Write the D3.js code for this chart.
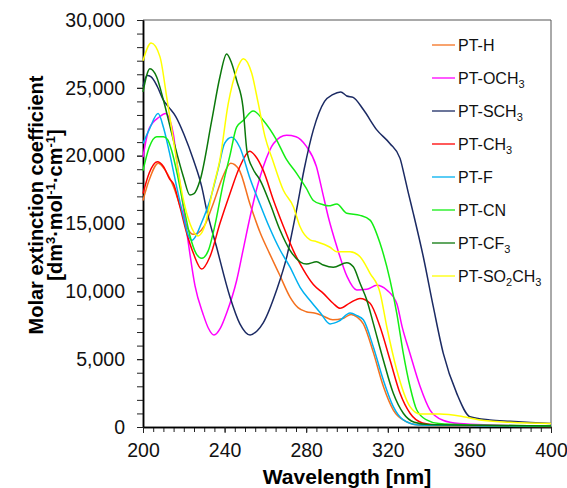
<!DOCTYPE html>
<html>
<head>
<meta charset="utf-8">
<script src="https://cdn.jsdelivr.net/npm/d3@7"></script>
<style>
  body { margin: 0; background: #fff; }
  svg { display: block; font-family: Arial, 'Liberation Sans', sans-serif; }
</style>
</head>
<body>
<div id="chart"></div>
<script>
// Absorption spectra, [wavelength nm, molar extinction coefficient]
const ptH = [[200,16700],[203,18200],[207.5,19450],[211,18900],[215,17700],[219,15900],[222,14600],[224.5,14200],[227,14300],[230,14800],[234.5,16500],[239,18400],[243,19450],[247,19000],[252.5,16400],[257.5,14300],[262,12800],[267,11200],[272,9600],[276,8800],[280,8500],[284,8400],[288,8200],[293,7900],[298,8000],[302,8300],[305,8100],[308,7600],[312.9,5500],[317.8,3000],[322.7,1250],[329,400],[335,150],[350,80],[400,40]];
const ptOCH3 = [[200,19900],[203,22000],[208,22850],[211,23100],[213,22700],[215,21500],[216.5,19700],[219,17000],[222,13800],[225.5,10400],[229.5,8300],[232,7300],[234.8,6780],[238,7300],[241,8400],[245.9,10800],[249,13000],[252.5,15500],[256,17700],[259,19200],[264,20900],[270.4,21500],[275,21400],[280,20700],[285,19200],[288,17300],[290.8,15500],[295,13300],[300,11100],[304.8,10100],[309.7,10150],[314.6,10450],[319.5,10100],[324.4,9100],[327,7400],[330.9,5400],[335.8,3000],[340.7,1250],[347,500],[355,250],[370,150],[400,80]];
const ptSCH3 = [[200,25100],[202,25900],[204,25800],[207,25100],[210,24100],[212.5,23600],[216,22900],[220,21600],[224.7,19700],[228.8,17700],[231.2,16000],[236,13300],[242.6,9600],[247.5,7600],[252.5,6780],[256,7100],[259,7700],[265.5,10100],[270.4,12500],[275,15800],[279,19000],[283.5,21900],[289,24000],[293,24500],[296.9,24700],[299.9,24400],[303,24300],[308,23400],[314.6,21900],[321,20900],[326,19800],[328,18600],[330,17300],[332.5,15750],[337.4,12550],[342.3,8870],[347.2,5430],[353.8,2480],[360.3,760],[370,520],[380,420],[390,330],[400,250]];
const ptCH3 = [[200,17200],[203,18700],[207,19550],[210,19200],[213,18300],[215,17900],[218,16300],[221.4,14300],[224.7,12800],[228.8,11640],[232.8,12550],[237.7,15000],[242.6,17200],[247.5,19200],[252.3,20330],[255,20000],[259,18900],[264,16700],[268.8,14800],[273.7,13000],[278.6,11600],[283.5,10500],[288.4,9850],[293.3,9100],[296.6,8750],[301.5,9150],[306.4,9480],[311.3,9120],[316.2,7390],[321.1,4940],[326,2480],[330.9,1010],[337,300],[345,150],[400,60]];
const ptF = [[200,20900],[203,21900],[207.4,23100],[210,22100],[213,20200],[216.5,17700],[219.8,15500],[222,14200],[224,13750],[226,14100],[228,14800],[232.8,16700],[237,19100],[240,20900],[243.5,21350],[247.5,20600],[252.5,18300],[257.4,16400],[262,14700],[267,13100],[272,11800],[277,10300],[282,9300],[287,8400],[291.7,7600],[296,7800],[301.5,8400],[305,8200],[308,7900],[312.9,5900],[317.8,3460],[322.7,1500],[327.6,520],[335,150],[400,50]];
const ptCN = [[200,18900],[203,20600],[206.7,21400],[210,21400],[212,21200],[214,20400],[217,18500],[220,16200],[223,14100],[226,12800],[228.8,12430],[232,13000],[235,14700],[239.4,18000],[242.6,20000],[245.9,22100],[249.2,22600],[254,23300],[259,22600],[265.5,21150],[270.4,19700],[275.3,18700],[280,17600],[283.5,16700],[288,16400],[291,16300],[295,16430],[299.9,15750],[306.4,15600],[311.3,15250],[316.2,13540],[321.1,10830],[324.4,8380],[327.6,5430],[330.9,2970],[334.2,1250],[339,520],[345,250],[360,150],[400,80]];
const ptCF3 = [[200,24700],[203.4,26400],[206.7,25800],[210,24100],[214.9,21150],[219.8,18450],[223,17100],[225,17200],[228,18200],[233.7,22600],[237.7,25800],[241,27500],[243.5,26800],[246,25500],[249,23600],[251,20300],[254,19000],[257.4,18200],[262.3,16450],[267.2,14500],[272,13040],[277,12180],[280.2,12010],[285.1,12180],[288.4,11940],[293.3,11770],[299.9,12110],[303.1,11810],[306.4,10590],[309.7,9360],[312.9,7640],[317.8,4940],[322.7,2480],[327.6,1010],[333,350],[340,180],[400,80]];
const ptSO2CH3 = [[200,27000],[204,28300],[208.3,27300],[211.6,24340],[214.9,21150],[219.8,16750],[223,15000],[227,14080],[230,14700],[234.5,17700],[237.7,19700],[241.8,23850],[245.9,26300],[249.2,27150],[253.3,26070],[256.5,23850],[259.8,21400],[263.5,19700],[268.8,17450],[273.7,16240],[277,14760],[281.9,13800],[285.1,13660],[291.7,13250],[295,12920],[301.5,12920],[306.4,12550],[311.3,11330],[316.2,9900],[319.5,7390],[324.4,4200],[330.9,1500],[335.8,960],[345.6,960],[357,760],[365,520],[380,350],[400,250]];

const seriesLabels = ['PT-H', 'PT-OCH_3', 'PT-SCH_3', 'PT-CH_3', 'PT-F', 'PT-CN', 'PT-CF_3', 'PT-SO_2CH_3'];
const seriesValues = [ptH, ptOCH3, ptSCH3, ptCH3, ptF, ptCN, ptCF3, ptSO2CH3];

const wavelengthTicks = [200, 240, 280, 320, 360, 400];
const coefficientTicks = [0, 5000, 10000, 15000, 20000, 25000, 30000];

class SpectraChart {
  constructor(_config, _data) {
    this.config = {
      parentElement: _config.parentElement,
      containerWidth: 567,
      containerHeight: 488,
      margin: { top: 20, right: 16, bottom: 61, left: 143 },
      colors: ['#f4711f', '#ff00ff', '#1b2a63', '#ff0000', '#00b0f0', '#14ee14', '#0b780b', '#ffff00'],
    };
    this.data = _data;
    this.initVis();
  }

  initVis() {
    let vis = this;

    vis.config.width = vis.config.containerWidth - vis.config.margin.left - vis.config.margin.right;
    vis.config.height = vis.config.containerHeight - vis.config.margin.top - vis.config.margin.bottom;

    vis.xScale = d3.scaleLinear().domain([200, 400]).range([0, vis.config.width]);
    vis.yScale = d3.scaleLinear().domain([0, 30000]).range([vis.config.height, 0]);

    vis.svg = d3.select(vis.config.parentElement)
      .append('svg')
      .attr('width', vis.config.containerWidth)
      .attr('height', vis.config.containerHeight);

    vis.chart = vis.svg.append('g')
      .attr('transform', `translate(${vis.config.margin.left},${vis.config.margin.top})`);

    // top and right border of the plot box
    vis.chart.append('path')
      .attr('d', `M0,0H${vis.config.width}V${vis.config.height}`)
      .attr('fill', 'none')
      .attr('stroke', '#555')
      .attr('stroke-width', 1);

    vis.renderVis();
  }

  renderVis() {
    let vis = this;
    const w = vis.config.width, h = vis.config.height;

    // minor ticks first, then the labelled axes
    vis.chart.append('g')
      .attr('class', 'minor')
      .call(d3.axisLeft(vis.yScale).tickValues(d3.range(0, 30001, 1000)).tickFormat('').tickSize(6).tickSizeOuter(0));
    vis.chart.append('g')
      .attr('class', 'minor')
      .attr('transform', `translate(0,${h})`)
      .call(d3.axisBottom(vis.xScale).tickValues(d3.range(200, 401, 5)).tickFormat('').tickSize(5).tickSizeOuter(0));
    // drop the empty label nodes of the minor axes
    vis.chart.selectAll('.minor text').remove();

    const yAxis = vis.chart.append('g')
      .call(d3.axisLeft(vis.yScale).tickValues(coefficientTicks).tickFormat(d3.format(',')).tickSize(6).tickPadding(12).tickSizeOuter(0));
    const xAxis = vis.chart.append('g')
      .attr('transform', `translate(0,${h})`)
      .call(d3.axisBottom(vis.xScale).tickValues(wavelengthTicks).tickSize(6).tickPadding(10).tickSizeOuter(0));

    vis.chart.selectAll('.domain').attr('stroke', '#000').attr('stroke-width', 1.5);
    vis.chart.selectAll('.tick line').attr('stroke', '#222');
    [yAxis, xAxis].forEach((a) => a.selectAll('text')
      .attr('font-size', '19.5px')
      .attr('font-family', 'Arial, "Liberation Sans", sans-serif')
      .attr('fill', '#111'));

    // spectra
    const line = d3.line()
      .x((d) => vis.xScale(d[0]))
      .y((d) => vis.yScale(d[1]))
      .curve(d3.curveMonotoneX);

    vis.chart.selectAll('.spectrum')
      .data(vis.data)
      .join('path')
      .attr('class', 'spectrum')
      .attr('d', (d) => line(d.values))
      .attr('fill', 'none')
      .attr('stroke', (d, i) => vis.config.colors[i])
      .attr('stroke-width', 1.5);

    // legend
    const legend = vis.chart.selectAll('.legend-item')
      .data(vis.data)
      .join('g')
      .attr('class', 'legend-item')
      .attr('transform', (d, i) => `translate(289,${25 + i * 33})`);

    legend.append('line')
      .attr('x1', 0).attr('x2', 23)
      .attr('stroke', (d, i) => vis.config.colors[i])
      .attr('stroke-width', 1.3);

    legend.append('text')
      .attr('x', 26)
      .attr('y', 6)
      .attr('font-size', '16px')
      .attr('fill', '#111')
      .each(function (d) {
        const t = d3.select(this);
        // split label on "_n" to make subscripts
        d.label.split(/(_\d)/).filter((s) => s).forEach((part) => {
          if (part[0] === '_') {
            t.append('tspan').attr('font-size', '11px').attr('baseline-shift', '-4').text(part[1]);
          } else {
            t.append('tspan').text(part);
          }
        });
      });

    // axis titles
    vis.svg.append('text')
      .attr('x', vis.config.margin.left + w / 2)
      .attr('y', 484)
      .attr('text-anchor', 'middle')
      .attr('font-size', '21px')
      .attr('font-weight', 'bold')
      .text('Wavelength [nm]');

    const yTitle = vis.svg.append('text')
      .attr('transform', 'translate(43,205) rotate(-90)')
      .attr('text-anchor', 'middle')
      .attr('font-size', '20px')
      .attr('font-weight', 'bold');
    yTitle.append('tspan').attr('x', 0).attr('y', 0).text('Molar extinction coefficient');
    const l2 = yTitle.append('tspan').attr('x', 0).attr('y', 19);
    l2.append('tspan').text('[dm');
    l2.append('tspan').attr('font-size', '13px').attr('baseline-shift', '7').text('3');
    l2.append('tspan').text('\u00b7mol');
    l2.append('tspan').attr('font-size', '13px').attr('baseline-shift', '7').text('-1');
    l2.append('tspan').text('\u00b7cm');
    l2.append('tspan').attr('font-size', '13px').attr('baseline-shift', '7').text('-1');
    l2.append('tspan').text(']');
  }
}

const data = seriesLabels.map((label, i) => ({ label: label, values: seriesValues[i] }));
new SpectraChart({ parentElement: '#chart' }, data);
</script>
</body>
</html>
